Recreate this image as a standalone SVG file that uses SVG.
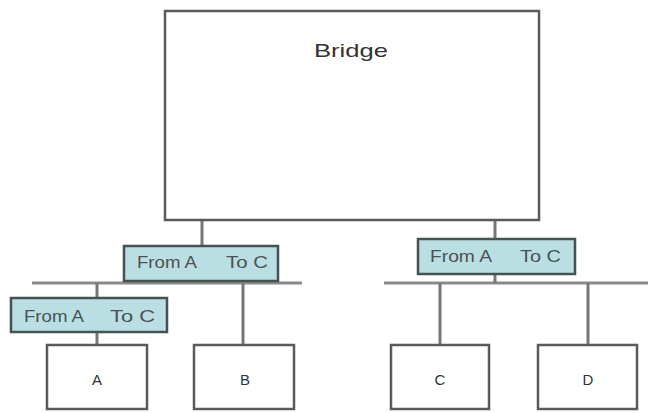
<svg xmlns="http://www.w3.org/2000/svg" width="648" height="413" viewBox="0 0 648 413">
<style>
.box{fill:#fff;stroke:#5a5a5a;stroke-width:2.5}
.lbl{fill:#b9dfe2;stroke:#46524f;stroke-width:2.5}
.ln{stroke:#777;stroke-width:3;fill:none}
.bus{stroke:#8a8a8a;stroke-width:3;fill:none}
text{font-family:"Liberation Sans",Arial,sans-serif;fill:#333}
.t{font-size:16px;fill:#4a5252}
.n{font-size:15px;fill:#333;text-anchor:middle}
</style>
<rect width="648" height="413" fill="#fff"/>
<g id="connectors">
<line class="ln" x1="202" y1="220" x2="202" y2="246"/>
<line class="ln" x1="495" y1="220" x2="495" y2="239"/>
<line class="bus" x1="32" y1="283" x2="302" y2="283"/>
<line class="bus" x1="384" y1="283" x2="648" y2="283"/>
<line class="ln" x1="97" y1="283" x2="97" y2="297"/>
<line class="ln" x1="97" y1="332" x2="97" y2="345"/>
<line class="ln" x1="243" y1="283" x2="243" y2="345"/>
<line class="ln" x1="495" y1="274" x2="495" y2="283"/>
<line class="ln" x1="440" y1="283" x2="440" y2="345"/>
<line class="ln" x1="588" y1="283" x2="588" y2="345" stroke="#444"/>
</g>
<g id="bridge">
<rect class="box" x="165" y="11" width="374" height="209"/>
<text x="314" y="57" font-size="19" textLength="74" lengthAdjust="spacingAndGlyphs">Bridge</text>
</g>
<g id="label1">
<rect class="lbl" x="124" y="246" width="154" height="35"/>
<text class="t" x="137" y="268" textLength="60" lengthAdjust="spacingAndGlyphs">From A</text>
<text class="t" x="226" y="268" textLength="42" lengthAdjust="spacingAndGlyphs">To C</text>
</g>
<g id="label2">
<rect class="lbl" x="11" y="298" width="156" height="34"/>
<text class="t" x="24" y="322" textLength="60" lengthAdjust="spacingAndGlyphs">From A</text>
<text class="t" x="110" y="322" textLength="45" lengthAdjust="spacingAndGlyphs">To C</text>
</g>
<g id="label3">
<rect class="lbl" x="418" y="239" width="157" height="35"/>
<text class="t" x="430" y="262" textLength="62" lengthAdjust="spacingAndGlyphs">From A</text>
<text class="t" x="520" y="262" textLength="41" lengthAdjust="spacingAndGlyphs">To C</text>
</g>
<g id="A">
<rect class="box" x="47" y="345" width="100" height="64"/>
<text class="n" x="97" y="385">A</text>
</g>
<g id="B">
<rect class="box" x="194" y="345" width="100" height="64"/>
<text class="n" x="245" y="385">B</text>
</g>
<g id="C">
<rect class="box" x="391" y="345" width="98" height="64"/>
<text class="n" x="440" y="385">C</text>
</g>
<g id="D">
<rect class="box" x="538" y="345" width="99" height="64"/>
<text class="n" x="588" y="385">D</text>
</g>
</svg>
